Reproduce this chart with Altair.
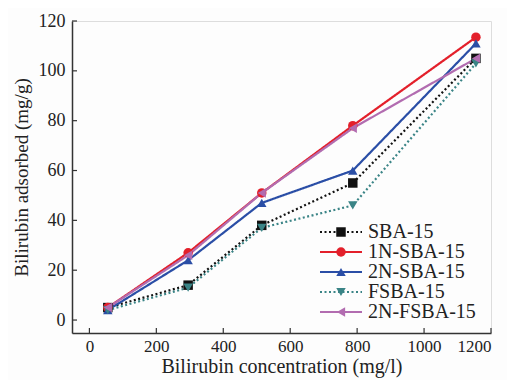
import altair as alt
import pandas as pd

# ---- data ----
conc = [55, 295, 515, 787, 1155]
series_names = ["SBA-15", "1N-SBA-15", "2N-SBA-15", "FSBA-15", "2N-FSBA-15"]
sba = [5, 14, 38, 55, 105]
n1_sba = [5, 27, 51, 78, 113.5]
n2_sba = [4, 24, 47, 60, 111]
fsba = [4, 13, 37, 46, 103]
n2_fsba = [5, 26, 51, 77, 105]
x_ticks = [0, 200, 400, 600, 800, 1000, 1200]
y_ticks = [0, 20, 40, 60, 80, 100, 120]

colors = ["#111111", "#e3202b", "#2a4ea6", "#3a8486", "#b26cb0"]
dashes = [[2, 2.5], [1, 0], [1, 0], [2, 2.5], [1, 0]]
shapes = ["square", "circle", "triangle-up", "triangle-down", "triangle-left"]

rows = []
for name, vals in zip(series_names, [sba, n1_sba, n2_sba, fsba, n2_fsba]):
    for c, v in zip(conc, vals):
        rows.append({"conc": c, "ads": v, "series": name})
df = pd.DataFrame(rows)
leg = pd.DataFrame({"series": series_names})
xt = pd.DataFrame({"t": x_ticks})
yt = pd.DataFrame({"t": y_ticks})

W, H = 419, 312
FONT = "Liberation Serif"

xs = alt.Scale(domain=[-52, 1200], nice=False, zero=False)
ys = alt.Scale(domain=[-5.2, 120], nice=False, zero=False)
col = alt.Color("series:N", scale=alt.Scale(domain=series_names, range=colors), legend=None)
dash = alt.StrokeDash("series:N", scale=alt.Scale(domain=series_names, range=dashes), legend=None)
shp = alt.Shape("series:N", scale=alt.Scale(domain=series_names, range=shapes), legend=None)

axis_common = dict(tickSize=0, grid=False, labelFont=FONT, titleFont=FONT, labelColor="#222",
                   titleColor="#222", titleFontWeight="normal", labelFontWeight="normal",
                   domainColor="#333", domainWidth=1.5, labelOverlap=False, format="d")

base = alt.Chart(df)
lines = base.mark_line(strokeWidth=2.2).encode(
    x=alt.X("conc:Q", scale=xs,
            axis=alt.Axis(values=x_ticks, title="Bilirubin concentration (mg/l)",
                          labelFontSize=17, titleFontSize=20, labelPadding=5, titlePadding=2,
                          **axis_common)),
    y=alt.Y("ads:Q", scale=ys,
            axis=alt.Axis(values=y_ticks, title="Bilirubin adsorbed (mg/g)",
                          labelFontSize=18, titleFontSize=19, labelPadding=7, titlePadding=7,
                          **axis_common)),
    color=col, strokeDash=dash, detail="series:N",
)
pts = base.mark_point(filled=True, opacity=1, size=90).encode(
    x=alt.X("conc:Q", scale=xs), y=alt.Y("ads:Q", scale=ys), color=col, shape=shp,
)
xtick = alt.Chart(xt).mark_rule(color="#333", strokeWidth=1.2).encode(
    x=alt.X("t:Q", scale=xs), y=alt.value(H), y2=alt.value(H - 5))
ytick = alt.Chart(yt).mark_rule(color="#333", strokeWidth=1.2).encode(
    y=alt.Y("t:Q", scale=ys), x=alt.value(0), x2=alt.value(5))

main = alt.layer(lines, pts, xtick, ytick)

ly = alt.Y("series:N", sort=series_names, scale=alt.Scale(type="point", range=[211, 291], padding=0), axis=None)
leg_line = alt.Chart(leg).mark_rule(strokeWidth=2.2).encode(
    y=ly, x=alt.value(248), x2=alt.value(290), color=col, strokeDash=dash)
leg_pt = alt.Chart(leg).mark_point(filled=True, opacity=1, size=90).encode(
    y=ly, x=alt.value(269), color=col, shape=shp)
leg_txt = alt.Chart(leg).mark_text(align="left", baseline="middle", fontSize=20, font=FONT, color="#222").encode(
    y=ly, x=alt.value(296), text="series:N")
legend = alt.layer(leg_line, leg_pt, leg_txt)

chart = alt.layer(main, legend).resolve_scale(y="independent").properties(
    width=W, height=H,
    autosize=alt.AutoSizeParams(type="none"),
    padding={"left": 64, "top": 13, "right": 16, "bottom": 47},
).configure_view(stroke=None).configure(background="#fdfdfd", font=FONT)

chart.save("out.html", embed_options={"renderer": "svg", "actions": False})
